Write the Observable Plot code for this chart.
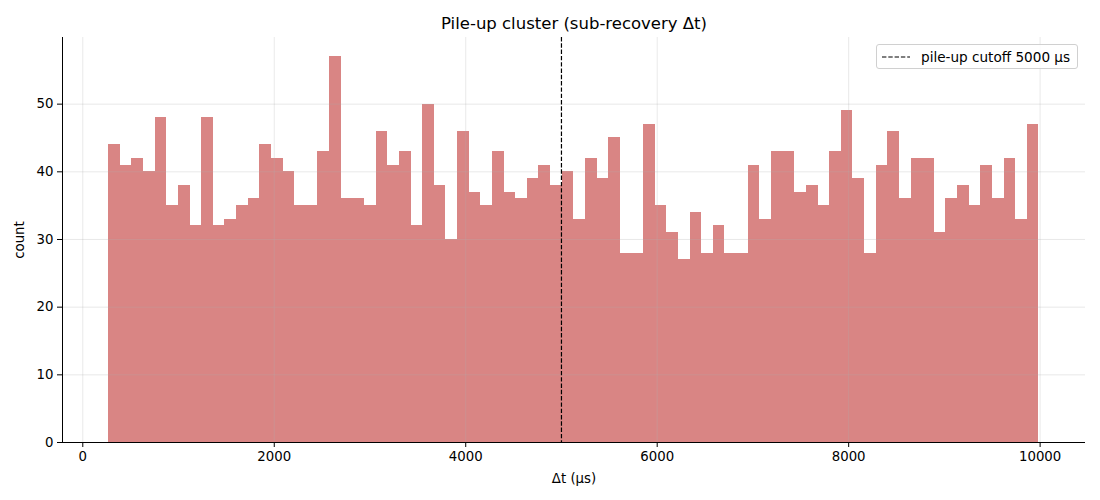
<!DOCTYPE html>
<html>
<head>
<meta charset="utf-8">
<script src="https://cdn.jsdelivr.net/npm/d3@7"></script>
<script src="https://cdn.jsdelivr.net/npm/@observablehq/plot@0.6"></script>
<style>
  html, body { margin: 0; padding: 0; background: #fff; }
  #wrap { position: relative; width: 1100px; height: 500px; font-family: "DejaVu Sans", sans-serif; }
  #legend { position: absolute; left: 876px; top: 44px; width: 200px; height: 23px;
    border: 1px solid #d0d0d0; border-radius: 3px; background: rgba(255,255,255,0.85);
    display: flex; align-items: center; font-size: 13.6px; color: #000; box-sizing: content-box; white-space: nowrap; }
  #legend svg { margin-left: 5px; margin-right: 11px; }
</style>
</head>
<body>
<div id="wrap"></div>
<script>
// ---- data ----
const counts = [44,41,42,40,48,35,38,32,48,32,33,35,36,44,42,40,35,35,43,57,36,36,35,46,41,43,32,
  50,38,30,46,37,35,43,37,36,39,41,38,40,33,42,39,45,28,28,47,35,31,27,34,28,32,28,28,41,33,
  43,43,37,38,35,43,49,39,28,41,46,36,42,42,31,36,38,35,41,36,42,33,47];
const binRange = [270, 9988];
const cutoff = [5000];
const xTicks = [0, 2000, 4000, 6000, 8000, 10000];
const yTicks = [0, 10, 20, 30, 40, 50];
const xDomain = [-212, 10474];
const yDomain = [0, 59.85];
const title = "Pile-up cluster (sub-recovery Δt)";
const xLabel = "Δt (μs)";
const yLabel = "count";
const legendLabel = "pile-up cutoff 5000 μs";

// build bins table
const binW = (binRange[1] - binRange[0]) / counts.length;
const bins = counts.map((c, i) => ({x1: binRange[0] + i * binW, x2: binRange[0] + (i + 1) * binW, count: c}));

const chart = Plot.plot({
  width: 1100,
  height: 500,
  marginTop: 37,
  marginBottom: 58,
  marginLeft: 62,
  marginRight: 15,
  style: {fontFamily: "DejaVu Sans, sans-serif", fontSize: "13px", color: "#000", background: "#fff"},
  x: {domain: xDomain},
  y: {domain: yDomain},
  marks: [
    Plot.rectY(bins, {x1: "x1", x2: "x2", y: "count", fill: "#d98584", inset: 0, shapeRendering: "crispEdges"}),
    Plot.gridX(xTicks, {stroke: "#b0b0b0", strokeOpacity: 0.35, strokeWidth: 0.8}),
    Plot.gridY(yTicks, {stroke: "#b0b0b0", strokeOpacity: 0.35, strokeWidth: 0.8}),
    Plot.ruleX(cutoff, {stroke: "#000", strokeWidth: 1.2, strokeDasharray: "4.4,1.9"}),
    Plot.axisX({ticks: xTicks, tickSize: 5, tickPadding: 4, fontSize: 13.3, tickFormat: d => String(d),
      label: xLabel, labelAnchor: "center", labelArrow: "none", labelOffset: 40}),
    Plot.axisY({ticks: yTicks, tickSize: 5, tickPadding: 4, fontSize: 13.3, tickFormat: d => String(d),
      label: yLabel, labelAnchor: "center", labelArrow: "none", labelOffset: 48}),
    Plot.ruleY([yDomain[0]], {stroke: "#000", strokeWidth: 1}),
    Plot.ruleX([xDomain[0]], {stroke: "#000", strokeWidth: 1}),
    Plot.text([title], {frameAnchor: "top", dy: -14, lineAnchor: "middle", fontSize: 16.5, text: d => d})
  ]
});

const wrap = document.getElementById("wrap");
wrap.appendChild(chart);

const leg = document.createElement("div");
leg.id = "legend";
leg.innerHTML = `<svg width="28" height="10"><line x1="0" y1="5" x2="28" y2="5" stroke="#000" stroke-width="1.2" stroke-dasharray="4.4,1.9"/></svg><span>${legendLabel}</span>`;
wrap.appendChild(leg);
</script>
</body>
</html>
